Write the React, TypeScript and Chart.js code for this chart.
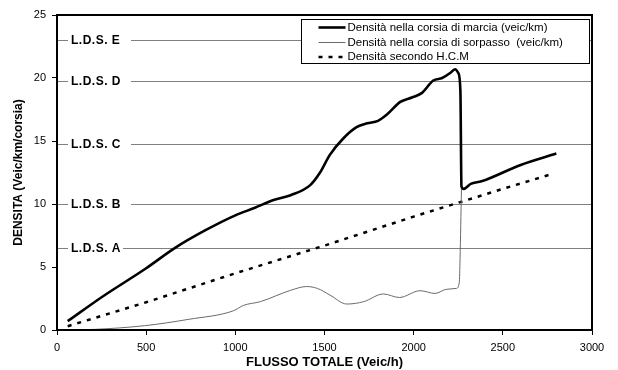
import { useEffect, useRef } from "react";
import { Chart, registerables } from "chart.js";

Chart.register(...registerables);

// Flusso totale (veic/h) e densità nella corsia di marcia (veic/km)
const flowMarcia = [60, 250, 500, 660, 830, 1000, 1110, 1210, 1310, 1420, 1475, 1530, 1605, 1680, 1740, 1800, 1850, 1925, 1990, 2045, 2110, 2160, 2205, 2232, 2250, 2262, 2268, 2280, 2320, 2380, 2600, 2800];
const densMarcia = [0.7, 2.6, 4.9, 6.5, 7.9, 9.1, 9.7, 10.3, 10.7, 11.5, 12.5, 13.9, 15.2, 16.1, 16.4, 16.6, 17.1, 18.1, 18.45, 18.8, 19.8, 20.0, 20.4, 20.7, 20.4, 19.0, 11.4, 11.2, 11.6, 11.8, 13.1, 14.0];

// Densità nella corsia di sorpasso
const flowSorpasso = [60, 210, 490, 740, 990, 1045, 1140, 1310, 1400, 1460, 1530, 1625, 1720, 1830, 1920, 2036, 2120, 2185, 2240, 2256, 2260, 2268];
const densSorpasso = [0.0, 0.05, 0.34, 0.85, 1.53, 1.95, 2.25, 3.15, 3.45, 3.3, 2.78, 2.06, 2.25, 2.86, 2.58, 3.12, 2.9, 3.23, 3.3, 3.8, 5.6, 11.2];

// Densità secondo H.C.M
const flowHcm = [60, 500, 1000, 1500, 2000, 2500, 2780];
const densHcm = [0.3, 2.2, 4.5, 6.7, 9.0, 11.2, 12.4];

// Livelli di servizio
const ldsLabels = ["L.D.S. A", "L.D.S. B", "L.D.S. C", "L.D.S. D", "L.D.S. E"];
const ldsValues = [6.5, 10, 14.8, 19.8, 23];

const seriesNames = [
  "Densità nella corsia di marcia (veic/km)",
  "Densità nella corsia di sorpasso  (veic/km)",
  "Densità secondo H.C.M",
];

const FONT = "'Liberation Sans', Arial, sans-serif";

const toPoints = (xs: number[], ys: number[]) => xs.map((x, i) => ({ x, y: ys[i] }));

// Horizontal level-of-service lines with their labels sitting in a gap of the line
const ldsPlugin = {
  id: "ldsLines",
  beforeDatasetsDraw(chart: any) {
    const { ctx, chartArea, scales } = chart;
    const y = scales.y;
    ctx.save();
    ctx.font = `bold 12px ${FONT}`;
    (ctx as any).letterSpacing = "0.5px";
    ctx.textBaseline = "middle";
    ctx.fillStyle = "#000";
    ldsValues.forEach((v, i) => {
      const py = Math.round(y.getPixelForValue(v)) + 0.5;
      const gapStart = chartArea.left + 11;
      const gapEnd = i === 0 ? chartArea.left + 66 : chartArea.left + 74;
      ctx.strokeStyle = "#808080";
      ctx.lineWidth = 1;
      ctx.beginPath();
      ctx.moveTo(chartArea.left, py);
      ctx.lineTo(gapStart, py);
      ctx.moveTo(gapEnd, py);
      ctx.lineTo(chartArea.right, py);
      ctx.stroke();
      ctx.fillText(ldsLabels[i], chartArea.left + 14, py + 0.5);
    });
    ctx.restore();
  },
};

// Thick frame round the plot and the boxed legend in the top-right corner
const framePlugin = {
  id: "frameLegend",
  afterDatasetsDraw(chart: any) {
    const { ctx, chartArea } = chart;
    ctx.save();
    ctx.strokeStyle = "#000";
    ctx.lineWidth = 2;
    ctx.strokeRect(chartArea.left, chartArea.top, chartArea.right - chartArea.left, chartArea.bottom - chartArea.top);

    const bx = chartArea.left + 244.5;
    const by = chartArea.top + 4.5;
    const bw = 288;
    const bh = 44;
    ctx.fillStyle = "#fff";
    ctx.fillRect(bx, by, bw, bh);
    ctx.lineWidth = 1;
    ctx.strokeRect(bx, by, bw, bh);

    ctx.font = `11.5px ${FONT}`;
    ctx.textBaseline = "middle";
    ctx.fillStyle = "#000";
    const rows = [8, 23, 37.5];
    chart.data.datasets.forEach((ds: any, i: number) => {
      const ry = by + rows[i];
      ctx.save();
      ctx.strokeStyle = ds.borderColor;
      ctx.lineWidth = ds.borderWidth;
      ctx.setLineDash(ds.borderDash || []);
      ctx.beginPath();
      ctx.moveTo(bx + 17, ry);
      ctx.lineTo(bx + 44, ry);
      ctx.stroke();
      ctx.restore();
      ctx.fillText(seriesNames[i], bx + 46, ry);
    });
    ctx.restore();
  },
};

export default function App() {
  const ref = useRef<HTMLCanvasElement | null>(null);

  useEffect(() => {
    if (!ref.current) return;
    const chart = new Chart(ref.current, {
      type: "line",
      data: {
        datasets: [
          {
            label: seriesNames[0],
            data: toPoints(flowMarcia, densMarcia),
            borderColor: "#000",
            borderWidth: 2.6,
            pointRadius: 0,
            cubicInterpolationMode: "monotone",
            fill: false,
          },
          {
            label: seriesNames[1],
            data: toPoints(flowSorpasso, densSorpasso),
            borderColor: "#6a6a6a",
            borderWidth: 1,
            pointRadius: 0,
            cubicInterpolationMode: "monotone",
            fill: false,
          },
          {
            label: seriesNames[2],
            data: toPoints(flowHcm, densHcm),
            borderColor: "#000",
            borderWidth: 2.5,
            borderDash: [4, 6],
            pointRadius: 0,
            tension: 0,
            fill: false,
          },
        ],
      },
      options: {
        responsive: false,
        devicePixelRatio: 1,
        animation: false,
        events: [],
        layout: { padding: { left: 0, top: 15, right: 26, bottom: 0 } },
        plugins: { legend: { display: false }, tooltip: { enabled: false } },
        scales: {
          x: {
            type: "linear",
            min: 0,
            max: 3000,
            ticks: {
              stepSize: 500,
              color: "#000",
              font: { family: FONT, size: 11 },
              padding: 6,
              maxRotation: 0,
              callback: (v: any) => String(v),
            },
            grid: { drawOnChartArea: false, tickLength: 5, color: "#000", lineWidth: 1 },
            border: { display: true, color: "#000", width: 2 },
            title: {
              display: true,
              text: "FLUSSO TOTALE (Veic/h)",
              color: "#000",
              font: { family: FONT, size: 13, weight: "bold" },
              padding: { top: 0, bottom: 0 },
            },
            afterFit: (s: any) => {
              s.height = 40;
            },
          },
          y: {
            type: "linear",
            min: 0,
            max: 25,
            ticks: {
              stepSize: 5,
              color: "#000",
              font: { family: FONT, size: 11 },
              padding: 6,
              callback: (v: any) => String(v),
            },
            grid: { drawOnChartArea: false, tickLength: 5, color: "#000", lineWidth: 1 },
            border: { display: true, color: "#000", width: 2 },
            title: {
              display: true,
              text: "DENSITA (Veic/km/corsia)",
              color: "#000",
              font: { family: FONT, size: 12, weight: "bold" },
              padding: { top: 11, bottom: 0 },
            },
            afterFit: (s: any) => {
              s.width = 57;
            },
          },
        },
      },
      plugins: [ldsPlugin, framePlugin],
    } as any);
    return () => chart.destroy();
  }, []);

  return (
    <div style={{ position: "absolute", left: 0, top: 0, width: 618, height: 370, background: "#fff" }}>
      <canvas ref={ref} width={618} height={370} style={{ width: 618, height: 370, display: "block" }} />
    </div>
  );
}
